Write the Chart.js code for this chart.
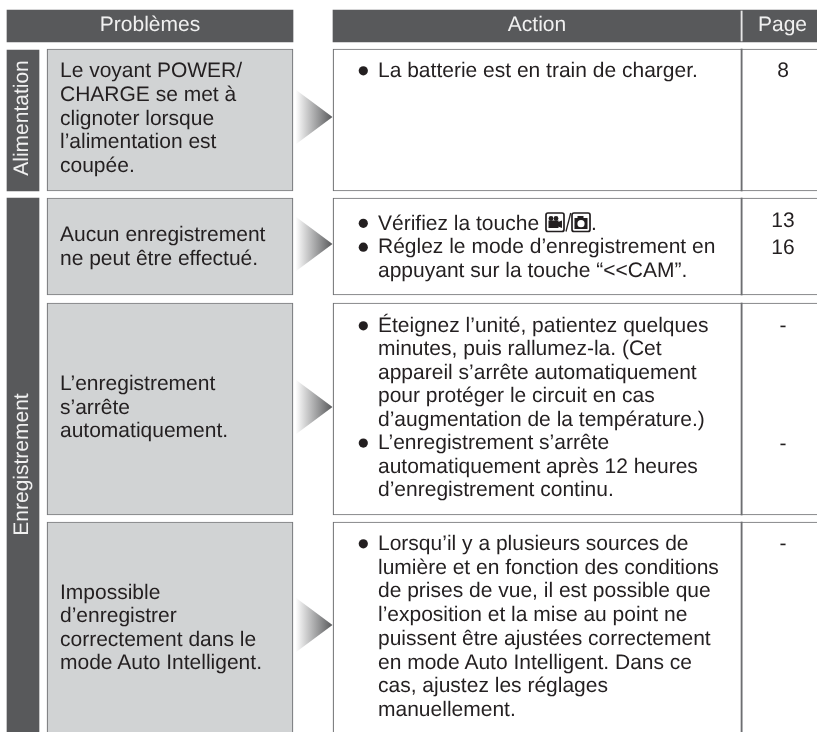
<!DOCTYPE html>
<html lang="fr">
<head>
<meta charset="utf-8">
<title>Problèmes</title>
<style>html,body{margin:0;padding:0;background:#fff}canvas{display:block}</style>
<script src="https://cdn.jsdelivr.net/npm/chart.js@4/dist/chart.umd.js"></script>
</head>
<body>
<canvas id="c" width="817" height="732"></canvas>
<script>
const headers = ["Problèmes", "Action", "Page"];
const groups = ["Alimentation", "Enregistrement"];
const groupTops = [50, 198];
const groupBottoms = [191, 740];
const rowTops = [49, 198, 303, 522];
const rowBottoms = [191, 295, 515, 740];
const arrowApex = [117, 244, 407, 625];
const problems = [
  ["Le voyant POWER/", "CHARGE se met à", "clignoter lorsque", "l’alimentation est", "coupée."],
  ["Aucun enregistrement", "ne peut être effectué."],
  ["L’enregistrement", "s’arrête", "automatiquement."],
  ["Impossible", "d’enregistrer", "correctement dans le", "mode Auto Intelligent."]
];
const problemBaselines = [77, 240.5, 390, 598.5];
const problemSpacing = [23.75, 24, 23.5, 23.5];
const actions = [
  ["La batterie est en train de charger."],
  ["Vérifiez la touche", "Réglez le mode d’enregistrement en", "appuyant sur la touche “<<CAM”."],
  ["Éteignez l’unité, patientez quelques", "minutes, puis rallumez-la. (Cet", "appareil s’arrête automatiquement", "pour protéger le circuit en cas", "d’augmentation de la température.)", "L’enregistrement s’arrête", "automatiquement après 12 heures", "d’enregistrement continu."],
  ["Lorsqu’il y a plusieurs sources de", "lumière et en fonction des conditions", "de prises de vue, il est possible que", "l’exposition et la mise au point ne", "puissent être ajustées correctement", "en mode Auto Intelligent. Dans ce", "cas, ajustez les réglages", "manuellement."]
];
const actionBaselines = [77, 229.5, 332, 550];
const actionSpacing = [23.7, 23.9, 23.45, 23.7];
const bulletLines = [[0], [0, 1], [0, 5], [0]];
const pageLabels = ["8", "13", "16", "-", "-", "-"];
const pageBaselines = [77, 227, 254, 332, 449.5, 550];

const FONT = '"Liberation Sans", Arial, sans-serif';
const INK = '#231f20';
const COL = {group:[7,39], prob:[47,293], head1:[7,293], act:[333,830], head2:[333,830], arrow:[295.5,332.5], text1:60, text2:378, bullet:363.3, page:783};

function barAt(span, top, bottom){ return {x:(span[0]+span[1])/2, y:[top,bottom]}; }
function column(span, tops, bottoms, style){
  return Object.assign({type:'bar', data:tops.map((t,i)=>barAt(span,t,bottoms[i])), barThickness:span[1]-span[0], grouped:false, borderSkipped:false}, style);
}
const bullets = [];
bulletLines.forEach((ls,r)=>ls.forEach(l=>bullets.push({x:COL.bullet, y:actionBaselines[r]+l*actionSpacing[r]-6.2})));

const arrowSets = arrowApex.map(a=>({
  type:'line', order:1, fill:'shape', borderWidth:0, pointRadius:0, tension:0,
  data:[{x:COL.arrow[0],y:a-27.5},{x:COL.arrow[1],y:a},{x:COL.arrow[0],y:a+27.5},{x:COL.arrow[0],y:a-27.5}],
  backgroundColor(ctx){
    const g=ctx.chart.ctx.createLinearGradient(COL.arrow[0],0,COL.arrow[1],0);
    g.addColorStop(0,'#ffffff'); g.addColorStop(1,'#58595b'); return g;
  }
}));

function icons(ctx){
  ctx.save();
  ctx.strokeStyle=INK; ctx.fillStyle=INK; ctx.lineWidth=1.7;
  ctx.beginPath(); ctx.roundRect(546,213,18,18.5,2); ctx.stroke();
  ctx.beginPath(); ctx.roundRect(572,213,18,18.5,2); ctx.stroke();
  // camcorder
  ctx.fillRect(548.5,220.5,10,7.5);
  ctx.beginPath(); ctx.arc(551,218.5,2.4,0,7); ctx.fill();
  ctx.beginPath(); ctx.arc(556,218.5,2.4,0,7); ctx.fill();
  ctx.beginPath(); ctx.moveTo(558,222); ctx.lineTo(562,220.5); ctx.lineTo(562,228); ctx.lineTo(558,226.5); ctx.fill();
  // camera
  ctx.fillRect(574.5,218,13,11);
  ctx.fillRect(577.5,216,6,2.5);
  ctx.fillStyle='#fff'; ctx.beginPath(); ctx.arc(581,223.7,3.6,0,7); ctx.fill();
  // slash between the two keys
  ctx.strokeStyle=INK; ctx.lineWidth=1.3;
  ctx.beginPath(); ctx.moveTo(566,231.5); ctx.lineTo(570.7,213); ctx.stroke();
  ctx.restore();
}

const tablePlugin = {
  id:'tableText',
  afterDatasetsDraw(chart){
    const {ctx, scales:{x,y}}=chart;
    const put=(s,px,py,align='left',color=INK)=>{ ctx.textAlign=align; ctx.fillStyle=color; ctx.fillText(s,x.getPixelForValue(px),y.getPixelForValue(py)); };
    ctx.save();
    ctx.textRendering='geometricPrecision';
    ctx.font='21px '+FONT; ctx.textBaseline='alphabetic';
    put(headers[0],150,31,'center','#f0f0f0');
    put(headers[1],537,31,'center','#f0f0f0');
    put(headers[2],782.5,31,'center','#f0f0f0');
    problems.forEach((ls,r)=>ls.forEach((s,i)=>put(s,COL.text1,problemBaselines[r]+i*problemSpacing[r])));
    actions.forEach((ls,r)=>ls.forEach((s,i)=>put(s,COL.text2,actionBaselines[r]+i*actionSpacing[r])));
    pageLabels.forEach((s,i)=>put(s,COL.page,pageBaselines[i],'center'));
    put('.',591,229.5);
    groups.forEach((g,i)=>{
      const cy=[118,464.5][i];
      ctx.save(); ctx.translate(x.getPixelForValue(28),y.getPixelForValue(cy)); ctx.rotate(-Math.PI/2);
      ctx.textAlign='center'; ctx.fillStyle='#f0f0f0'; ctx.fillText(g,0,0); ctx.restore();
    });
    icons(ctx);
    ctx.restore();
  }
};

new Chart(document.getElementById('c'),{
  data:{datasets:[
    column(COL.head1,[10],[42],{order:5,backgroundColor:'#58595b'}),
    column(COL.head2,[10],[42],{order:5,backgroundColor:'#58595b'}),
    column([741,742.2],[11],[41],{order:2,backgroundColor:'#e6e6e6'}),
    column(COL.group,groupTops,groupBottoms,{order:5,backgroundColor:'#58595b'}),
    column(COL.prob,rowTops,rowBottoms,{order:5,backgroundColor:'#d1d3d4',borderColor:'#77787b',borderWidth:1.2}),
    column(COL.act,rowTops,rowBottoms,{order:5,backgroundColor:'#ffffff',borderColor:'#6d6e71',borderWidth:1.2}),
    column([741,742.2],rowTops,rowBottoms,{order:2,backgroundColor:'#6d6e71'}),
    ...arrowSets,
    {type:'scatter',order:0,data:bullets,pointRadius:4.6,pointBackgroundColor:INK,pointBorderWidth:0,showLine:false}
  ]},
  options:{
    responsive:false, animation:false, maintainAspectRatio:false,
    layout:{padding:0,autoPadding:false},
    plugins:{legend:{display:false},tooltip:{enabled:false},title:{display:false}},
    scales:{
      x:{type:'linear',display:false,min:0,max:817,offset:false},
      y:{type:'linear',display:false,min:0,max:732,reverse:true,offset:false}
    }
  },
  plugins:[tablePlugin]
});
</script>
</body>
</html>
